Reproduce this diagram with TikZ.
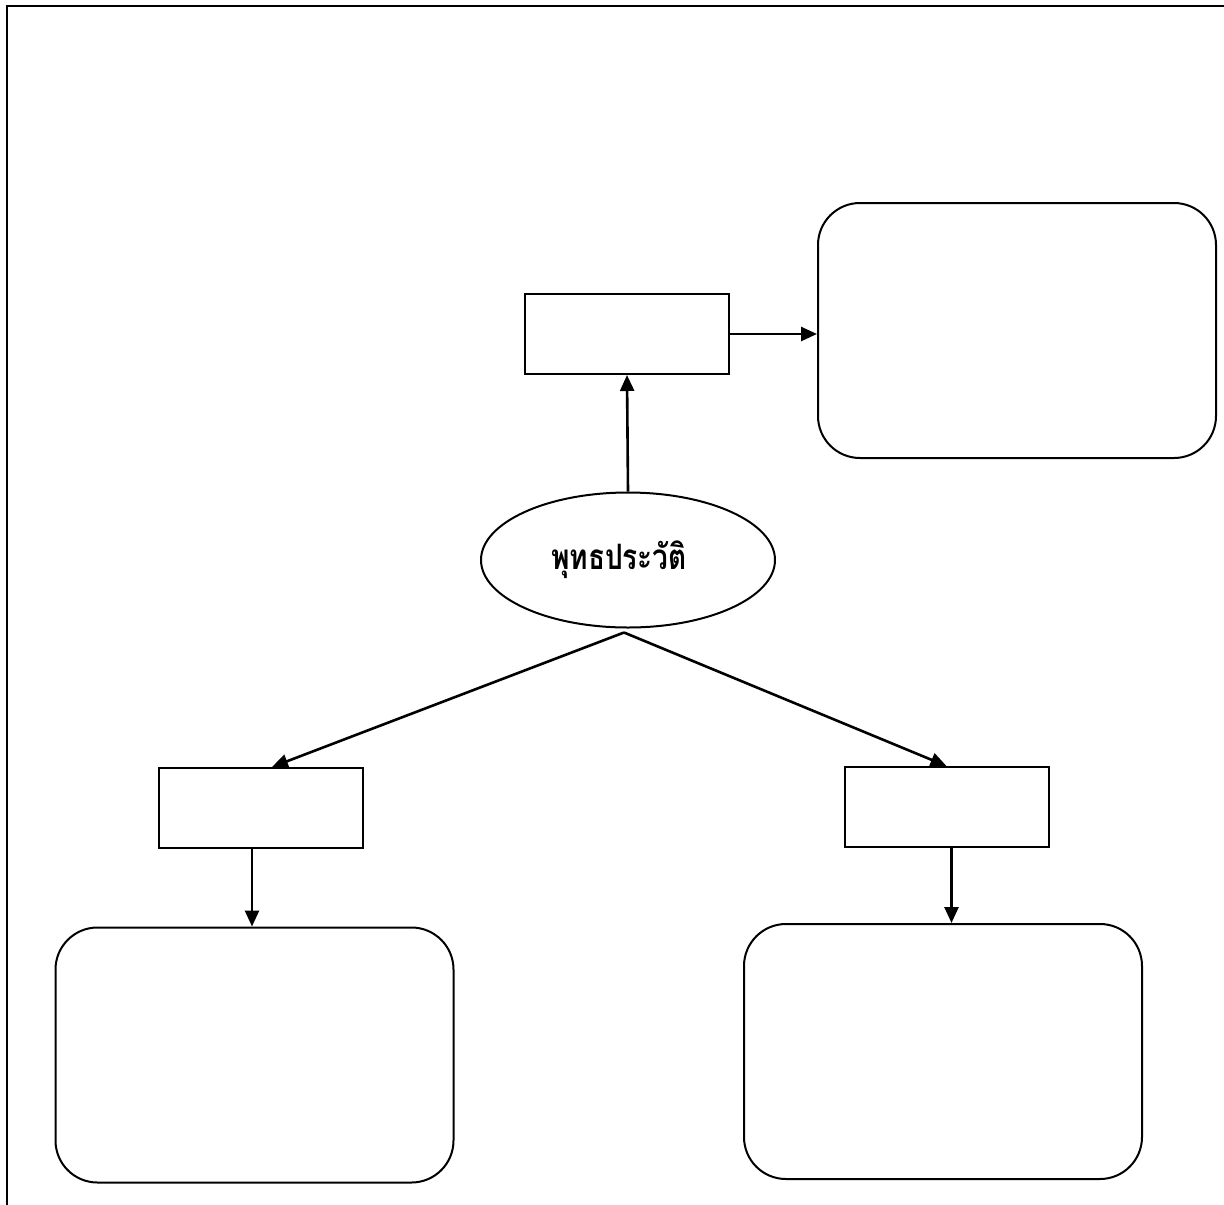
\documentclass[tikz,border=0pt]{standalone}
\usepackage{fontspec}
\newfontfamily\thaifont[Script=Thai,FakeStretch=0.8]{Loma}
\usetikzlibrary{shapes.geometric,arrows.meta,calc}
\begin{document}
\begin{tikzpicture}[x=1pt,y=-1pt,
  every node/.style={draw,line width=2pt,inner sep=0pt},
  sbox/.style={rectangle,minimum width=204pt,minimum height=80pt},
  rbox/.style={rectangle,rounded corners=42pt,minimum width=398pt,minimum height=255pt},
  arr/.style={line width=2.6pt,-{Triangle[length=16pt,width=14pt]}},
  frame/.style={line width=2.4pt}]
\useasboundingbox (0,0) rectangle (1224,1205);
\draw[frame] (7,1205) -- (7,6) -- (1224,6);
\node[ellipse,minimum width=294pt,minimum height=135pt] (e) at (628,560) {};
\node[draw=none,font=\thaifont\bfseries\fontsize{35}{38}\selectfont] (t) at (619,560) {พุทธประวัติ};
\node[sbox] (top) at (627,334) {};
\node[rbox] (tr) at (1017,330.5) {};
\node[sbox] (l) at (261,808) {};
\node[sbox] (r) at (946.5,807) {};
\node[rbox] (bl) at (254.5,1055) {};
\node[rbox] (br) at (943,1051.5) {};
\draw[arr] (e.north) -- (top.south);
\draw[arr] (top.east) -- (top.east -| tr.west);
\draw[arr] ([xshift=-4pt,yshift=-4pt]e.south) -- ([xshift=11pt]l.north);
\draw[arr] ([xshift=-4pt,yshift=-4pt]e.south) -- (r.north);
\draw[arr] ([xshift=-9pt]l.south) -- ([xshift=-9pt]l.south |- bl.north);
\draw[arr] ([xshift=5pt]r.south) -- ([xshift=5pt]r.south |- br.north);
\end{tikzpicture}
\end{document}
